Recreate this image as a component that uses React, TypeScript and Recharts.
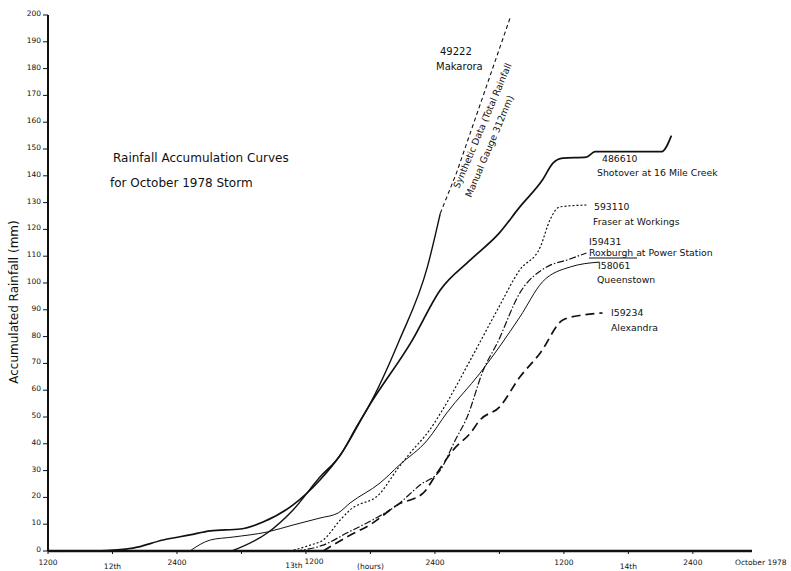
import { LineChart, Line, XAxis, YAxis } from "recharts";

// hours after 1200 on the 11th, accumulated rainfall in mm
const makaroraGauge = [
  { h: 17.1, mm: 0 }, { h: 20.4, mm: 6.7 }, { h: 22.8, mm: 15.3 }, { h: 25.3, mm: 27.6 },
  { h: 27.2, mm: 35.8 }, { h: 28.7, mm: 46.3 }, { h: 29.8, mm: 53.7 }, { h: 32.7, mm: 78.7 },
  { h: 35.3, mm: 106 }, { h: 36.5, mm: 126 },
];
const makaroraSynthetic = [{ h: 36.5, mm: 126 }, { h: 38.0, mm: 141 }, { h: 43.0, mm: 199 }];

const shotover = [
  { h: 4.4, mm: 0 }, { h: 7.9, mm: 1.1 }, { h: 10.7, mm: 4.1 }, { h: 13.2, mm: 6.0 },
  { h: 15.1, mm: 7.5 }, { h: 17.9, mm: 8.2 }, { h: 20.0, mm: 10.8 }, { h: 22.8, mm: 17.2 },
  { h: 25.3, mm: 26.5 }, { h: 27.2, mm: 35.8 }, { h: 29.8, mm: 53.7 }, { h: 33.9, mm: 78.7 },
  { h: 36.5, mm: 97.4 }, { h: 39.3, mm: 108.6 }, { h: 42.0, mm: 118.7 }, { h: 43.9, mm: 128.4 },
  { h: 46.0, mm: 138.4 }, { h: 47.0, mm: 144.8 }, { h: 47.9, mm: 146.6 }, { h: 50.1, mm: 147 },
  { h: 50.9, mm: 149 }, { h: 57.1, mm: 149 }, { h: 58.0, mm: 155 },
];

const fraser = [
  { h: 22.5, mm: 0 }, { h: 24.4, mm: 2.2 }, { h: 25.6, mm: 4.1 }, { h: 27.2, mm: 11.6 },
  { h: 28.1, mm: 15.3 }, { h: 30.9, mm: 21.5 }, { h: 32.5, mm: 30.5 }, { h: 33.7, mm: 36.6 },
  { h: 35.5, mm: 45.1 }, { h: 36.7, mm: 52.6 }, { h: 39.3, mm: 71.3 }, { h: 41.8, mm: 89.9 },
  { h: 43.9, mm: 104.9 }, { h: 45.8, mm: 113.4 }, { h: 46.7, mm: 123.5 }, { h: 47.6, mm: 128.4 },
  { h: 50.1, mm: 129.1 },
];

const roxburgh = [
  { h: 23.0, mm: 0 }, { h: 25.6, mm: 2.2 }, { h: 27.8, mm: 6.7 }, { h: 30.2, mm: 11.6 },
  { h: 32.5, mm: 17.2 }, { h: 34.6, mm: 24.6 }, { h: 36.5, mm: 30.2 }, { h: 37.9, mm: 41.4 },
  { h: 39.0, mm: 50 }, { h: 40.5, mm: 67.5 }, { h: 41.8, mm: 77.6 }, { h: 43.9, mm: 96.3 },
  { h: 46.4, mm: 106 }, { h: 48.3, mm: 108.6 }, { h: 50.1, mm: 111.2 },
];

const queenstown = [
  { h: 13.2, mm: 0 }, { h: 15.1, mm: 4.1 }, { h: 17.2, mm: 5.2 }, { h: 20.4, mm: 7.1 },
  { h: 22.8, mm: 9.7 }, { h: 25.3, mm: 12.3 }, { h: 27.0, mm: 14.2 }, { h: 28.1, mm: 17.9 },
  { h: 30.9, mm: 25.4 }, { h: 32.7, mm: 32.1 }, { h: 35.3, mm: 41.4 }, { h: 37.1, mm: 51.5 },
  { h: 40.2, mm: 66.4 }, { h: 43.9, mm: 87.3 }, { h: 46.0, mm: 100.4 }, { h: 48.6, mm: 106 },
  { h: 51.3, mm: 107.8 },
];

const alexandra = [
  { h: 25.6, mm: 0 }, { h: 27.8, mm: 5.2 }, { h: 30.2, mm: 10.4 }, { h: 32.5, mm: 17.2 },
  { h: 34.9, mm: 21.6 }, { h: 36.2, mm: 29.1 }, { h: 37.7, mm: 37.7 }, { h: 39.3, mm: 44 },
  { h: 40.2, mm: 48.9 }, { h: 42.0, mm: 53.7 }, { h: 43.9, mm: 64.9 }, { h: 45.8, mm: 73.9 },
  { h: 47.9, mm: 86.2 }, { h: 49.8, mm: 88.1 }, { h: 51.6, mm: 88.8 },
];

const yTicks = [0, 10, 20, 30, 40, 50, 60, 70, 80, 90, 100, 110, 120, 130, 140, 150, 160, 170, 180, 190, 200];
const xTicks = [0, 6, 12, 18, 24, 30, 36, 42, 48, 54, 60];
const xTickLabels: Record<number, string> = {
  0: "1200", 6: "12th", 12: "2400", 24: "1200", 30: "(hours)", 36: "2400", 48: "1200", 54: "14th", 60: "2400",
};

const FONT = "DejaVu Sans, sans-serif";
const INK = "#111";

function YTick(props: any) {
  const { y, payload } = props;
  return (
    <text x={41} y={y + 1} textAnchor="end" fontSize={7.5} fontFamily={FONT} fill={INK}>
      {payload.value}
    </text>
  );
}

function XTick(props: any) {
  const { x, payload } = props;
  const v = payload.value;
  const label = xTickLabels[v];
  if (!label) return null;
  const low = v === 6 || v === 54 || v === 30;
  return (
    <g>
      {v === 24 && (
        <text x={x - 12} y={568} textAnchor="middle" fontSize={7.5} fontFamily={FONT} fill={INK}>
          13th
        </text>
      )}
      <text
        x={v === 24 ? x + 8 : x}
        y={v === 24 ? 564 : low ? 569 : 565}
        textAnchor="middle"
        fontSize={7.5}
        fontFamily={FONT}
        fill={INK}
      >
        {label}
      </text>
    </g>
  );
}

function Notes() {
  const t = { fontFamily: FONT, fill: INK } as const;
  return (
    <svg width={791} height={571} style={{ position: "absolute", left: 0, top: 0, pointerEvents: "none" }}>
      <text x={113} y={162} fontSize={12} {...t}>Rainfall Accumulation Curves</text>
      <text x={110} y={187} fontSize={12} {...t}>for October 1978 Storm</text>
      <text x={18} y={302} fontSize={12} textAnchor="middle" transform="rotate(-90 18 302)" {...t}>
        Accumulated Rainfall (mm)
      </text>

      <text x={440} y={55} fontSize={10} {...t}>49222</text>
      <text x={436} y={70} fontSize={10} {...t}>Makarora</text>
      <text x={459} y={189} fontSize={9.3} transform="rotate(-67 459 189)" {...t}>
        Synthetic Data (Total Rainfall
      </text>
      <text x={471} y={198} fontSize={9.3} transform="rotate(-67 471 198)" {...t}>
        Manual Gauge   312mm)
      </text>

      <text x={602} y={162} fontSize={9.3} {...t}>486610</text>
      <text x={597} y={176} fontSize={9.3} {...t}>Shotover at 16 Mile Creek</text>
      <text x={594} y={210} fontSize={9.3} {...t}>593110</text>
      <text x={593} y={225} fontSize={9.3} {...t}>Fraser at Workings</text>
      <text x={589} y={245} fontSize={9.3} {...t}>I59431</text>
      <text x={589} y={256} fontSize={9.3} {...t}>Roxburgh  at Power Station</text>
      <line x1={589} y1={258} x2={637} y2={258} stroke={INK} strokeWidth={1} />
      <text x={598} y={269} fontSize={9.3} {...t}>I58061</text>
      <text x={597} y={283} fontSize={9.3} {...t}>Queenstown</text>
      <text x={611} y={316} fontSize={9.3} {...t}>I59234</text>
      <text x={611} y={331} fontSize={9.3} {...t}>Alexandra</text>

      <text x={735} y={565} fontSize={7.5} {...t}>October 1978</text>
    </svg>
  );
}

export default function App() {
  return (
    <div style={{ position: "fixed", left: 0, top: 0, width: 791, height: 571, background: "#fff" }}>
      <LineChart width={791} height={571} margin={{ top: 15, right: 39, left: 18, bottom: 0 }}>
        <XAxis
          type="number"
          dataKey="h"
          domain={[0, 65.5]}
          ticks={xTicks}
          tick={<XTick />}
          tickSize={3}
          axisLine={{ stroke: INK, strokeWidth: 2.5 }}
          tickLine={{ stroke: INK }}
          height={20}
          allowDataOverflow
        />
        <YAxis
          type="number"
          domain={[0, 200]}
          ticks={yTicks}
          tick={<YTick />}
          tickSize={5}
          width={30}
          axisLine={{ stroke: INK, strokeWidth: 2 }}
          tickLine={{ stroke: INK }}
          allowDataOverflow
        />
        <Line data={makaroraGauge} dataKey="mm" type="monotone" stroke={INK} strokeWidth={1.4} dot={false} isAnimationActive={false} />
        <Line data={makaroraSynthetic} dataKey="mm" type="linear" stroke={INK} strokeWidth={1.1} strokeDasharray="4 3" dot={false} isAnimationActive={false} />
        <Line data={shotover} dataKey="mm" type="monotone" stroke={INK} strokeWidth={1.7} dot={false} isAnimationActive={false} />
        <Line data={fraser} dataKey="mm" type="monotone" stroke={INK} strokeWidth={1.2} strokeDasharray="2 2" dot={false} isAnimationActive={false} />
        <Line data={roxburgh} dataKey="mm" type="monotone" stroke={INK} strokeWidth={1.2} strokeDasharray="7 2 1.5 2" dot={false} isAnimationActive={false} />
        <Line data={queenstown} dataKey="mm" type="monotone" stroke={INK} strokeWidth={1} dot={false} isAnimationActive={false} />
        <Line data={alexandra} dataKey="mm" type="monotone" stroke={INK} strokeWidth={1.7} strokeDasharray="9 5" dot={false} isAnimationActive={false} />
      </LineChart>
      <Notes />
    </div>
  );
}
